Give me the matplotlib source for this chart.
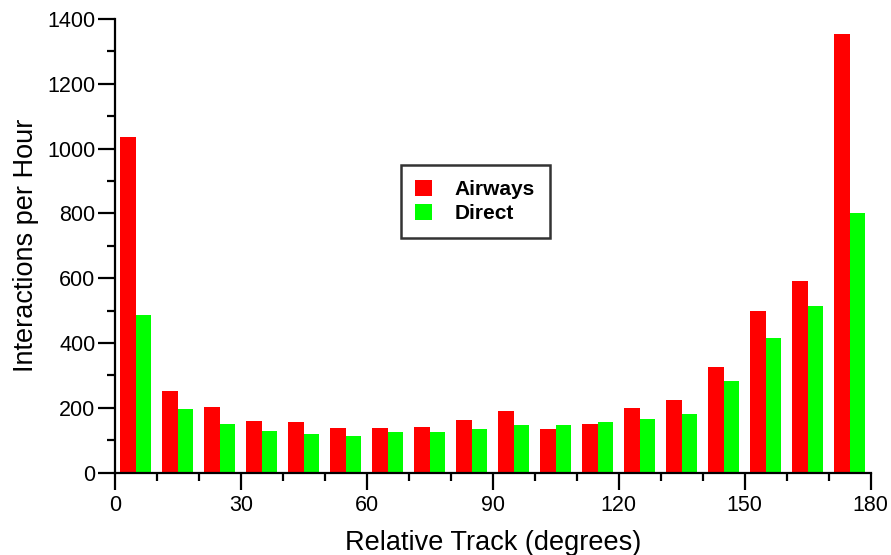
import numpy as np
import matplotlib.pyplot as plt
from matplotlib.ticker import MultipleLocator

plt.rcParams['font.family'] = ['Liberation Sans', 'DejaVu Sans']

# relative track bins (degrees), lower edge of each 10 degree bin
bin_start = np.arange(0, 180, 10)
airways = [1035, 251, 202, 159, 156, 137, 136, 141, 161, 189, 133, 150, 198, 223, 325, 499, 591, 1353]
direct = [486, 197, 149, 128, 120, 112, 124, 125, 133, 146, 146, 155, 165, 180, 284, 415, 514, 801]

fig = plt.figure(figsize=(8.91, 5.55), dpi=100)
ax = fig.add_axes([0.129, 0.1486, 0.848, 0.8172])

w = 3.7
ax.bar(bin_start + 1.3, airways, width=w, align='edge', color='#ff0000', label='Airways')
ax.bar(bin_start + 1.3 + w, direct, width=w, align='edge', color='#00ff00', label='Direct')

ax.set_xlim(0, 180)
ax.set_ylim(0, 1400)
ax.xaxis.set_major_locator(MultipleLocator(30))
ax.xaxis.set_minor_locator(MultipleLocator(10))
ax.yaxis.set_major_locator(MultipleLocator(200))
ax.yaxis.set_minor_locator(MultipleLocator(100))

for s in ['top', 'right']:
    ax.spines[s].set_visible(False)
for s in ['left', 'bottom']:
    ax.spines[s].set_linewidth(1.6)

ax.tick_params(which='major', length=12, width=1.6, labelsize=15.5, direction='out', pad=2)
ax.tick_params(axis='x', which='major', pad=4)
ax.tick_params(which='minor', length=6, width=1.6, direction='out')

ax.set_xlabel('Relative Track (degrees)', fontsize=19.5, labelpad=10)
ax.set_ylabel('Interactions per Hour', fontsize=19.5, labelpad=6)

leg = ax.legend(loc='upper left', bbox_to_anchor=(0.378, 0.678), fancybox=False,
                frameon=True, prop={'weight': 'bold', 'size': 15},
                handlelength=0.8, handleheight=0.8, borderpad=0.7,
                handletextpad=1.1, labelspacing=0.25, borderaxespad=0)
leg.get_frame().set_edgecolor('black')
leg.get_frame().set_linewidth(1.8)

fig.savefig('out.png', dpi=100)
